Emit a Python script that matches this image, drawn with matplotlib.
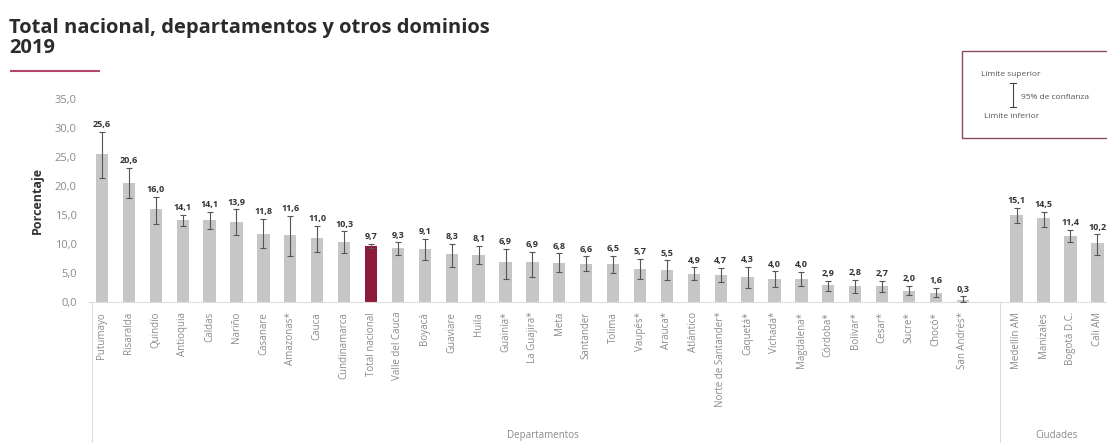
import numpy as np
import matplotlib
matplotlib.use("Agg")
import matplotlib.pyplot as plt
from matplotlib.patches import Rectangle
from matplotlib.lines import Line2D
import matplotlib.transforms as mtransforms

plt.rcParams['font.family'] = ['Open Sans', 'DejaVu Sans']

# data
dept_names = ['Putumayo', 'Risaralda', 'Quindío', 'Antioquia', 'Caldas', 'Nariño',
              'Casanare', 'Amazonas*', 'Cauca', 'Cundinamarca', 'Total nacional',
              'Valle del Cauca', 'Boyacá', 'Guaviare', 'Huila', 'Guainía*', 'La Guajira*',
              'Meta', 'Santander', 'Tolima', 'Vaupés*', 'Arauca*', 'Atlántico',
              'Norte de Santander*', 'Caquetá*', 'Vichada*', 'Magdalena*', 'Córdoba*',
              'Bolívar*', 'Cesar*', 'Sucre*', 'Chocó*', 'San Andrés*']
dept_values = [25.6, 20.6, 16.0, 14.1, 14.1, 13.9, 11.8, 11.6, 11.0, 10.3, 9.7,
               9.3, 9.1, 8.3, 8.1, 6.9, 6.9, 6.8, 6.6, 6.5, 5.7, 5.5, 4.9,
               4.7, 4.3, 4.0, 4.0, 2.9, 2.8, 2.7, 2.0, 1.6, 0.3]
dept_lower = [21.4, 17.9, 13.5, 13.2, 12.6, 11.6, 9.4, 8.0, 8.6, 8.4, 9.3,
              8.2, 7.2, 6.0, 6.5, 4.0, 4.4, 5.2, 5.3, 5.0, 4.0, 3.8, 3.8,
              3.5, 2.4, 2.6, 2.8, 2.0, 1.6, 1.7, 1.2, 0.8, 0.0]
dept_upper = [29.4, 23.2, 18.1, 15.1, 15.5, 16.0, 14.3, 14.9, 13.1, 12.2, 10.1,
              10.3, 10.9, 10.1, 9.7, 9.2, 8.7, 8.4, 7.9, 8.0, 7.5, 7.2, 6.0,
              5.9, 6.1, 5.3, 5.2, 3.7, 3.9, 3.7, 2.8, 2.4, 1.0]

city_names = ['Medellín AM', 'Manizales', 'Bogotá D.C.', 'Cali AM']
city_values = [15.1, 14.5, 11.4, 10.2]
city_lower = [13.7, 12.9, 10.3, 8.2]
city_upper = [16.3, 15.6, 12.5, 11.7]

highlight = 'Total nacional'

GREY_BAR = '#c6c6c6'
RED_BAR = '#8e1b3b'
ERR_COL = '#555555'
TXT_GREY = '#8a8a8a'

fig = plt.figure(figsize=(11.07, 4.43), dpi=100)
ax = fig.add_axes([0.0795, 0.318, 0.9205, 0.458])

x_dept = np.arange(len(dept_names))
x_city = np.arange(len(city_names)) + len(dept_names) + 1

names = dept_names + city_names
values = np.array(dept_values + city_values)
lower = np.array(dept_lower + city_lower)
upper = np.array(dept_upper + city_upper)
xs = np.concatenate([x_dept, x_city])

colors = [RED_BAR if n == highlight else GREY_BAR for n in names]
ax.bar(xs, values, width=0.46, color=colors, zorder=2)
ax.errorbar(xs, values, yerr=[values - lower, upper - values], fmt='none',
            ecolor=ERR_COL, elinewidth=0.8, capsize=2.5, capthick=0.8, zorder=3)

for x, v, u in zip(xs, values, upper):
    ax.annotate(f"{v:.1f}".replace('.', ','), (x, u), xytext=(0, 2),
                textcoords='offset points', ha='center', va='bottom',
                fontsize=6.5, fontweight='bold', color='#333333')

ax.set_xlim(-0.52, 37.36)
ax.set_ylim(0, 35)
ax.set_yticks(np.arange(0, 36, 5))
ax.set_yticklabels([f"{t:.1f}".replace('.', ',') for t in np.arange(0, 36, 5)],
                   fontsize=8, color=TXT_GREY)
ax.set_xticks(xs)
ax.set_xticklabels(names, rotation=90, fontsize=7, color=TXT_GREY, va='top')
ax.tick_params(axis='x', length=0, pad=7)
ax.tick_params(axis='y', length=0, pad=8)
for s in ['top', 'right', 'left']:
    ax.spines[s].set_visible(False)
ax.spines['bottom'].set_color('#dddddd')
ax.spines['bottom'].set_linewidth(0.8)

ax.set_ylabel('Porcentaje', fontsize=9, fontweight='bold', color='#333333', labelpad=8)

# group separators below the axis
trans = mtransforms.blended_transform_factory(ax.transData, ax.transAxes)
for xsep in [-0.37, len(dept_names) + 0.4]:
    ax.add_line(Line2D([xsep, xsep], [0, -0.7], transform=trans, color='#dddddd',
                       linewidth=0.8, clip_on=False))
ax.text(16.4, -0.655, 'Departamentos', transform=trans, ha='center', va='center',
        fontsize=7, color=TXT_GREY)
ax.text(35.5, -0.655, 'Ciudades', transform=trans, ha='center', va='center',
        fontsize=7, color=TXT_GREY)

# title
fig.text(0.008, 0.96, 'Total nacional, departamentos y otros dominios\n2019',
         ha='left', va='top', fontsize=14.5, fontweight='bold', color='#2b2b2b',
         linespacing=1.05)
fig.add_artist(Line2D([0.010, 0.089], [0.84, 0.84], transform=fig.transFigure,
                      color='#b5456a', linewidth=1.5))

# legend box for confidence interval
fig.add_artist(Rectangle((0.869, 0.688), 0.14, 0.198, transform=fig.transFigure,
                         fill=False, edgecolor='#8a4a60', linewidth=1.0))
fig.text(0.886, 0.831, 'Límite superior', fontsize=6, color='#555555', va='center')
fig.text(0.889, 0.736, 'Límite inferior', fontsize=6, color='#555555', va='center')
fig.add_artist(Line2D([0.915, 0.915], [0.758, 0.812], transform=fig.transFigure,
                      color='#444444', linewidth=0.8))
for yy in [0.758, 0.812]:
    fig.add_artist(Line2D([0.912, 0.918], [yy, yy], transform=fig.transFigure,
                          color='#444444', linewidth=0.8))
fig.text(0.922, 0.781, '95% de confianza', fontsize=6, color='#555555', va='center')

fig.savefig('out.png', dpi=100)
